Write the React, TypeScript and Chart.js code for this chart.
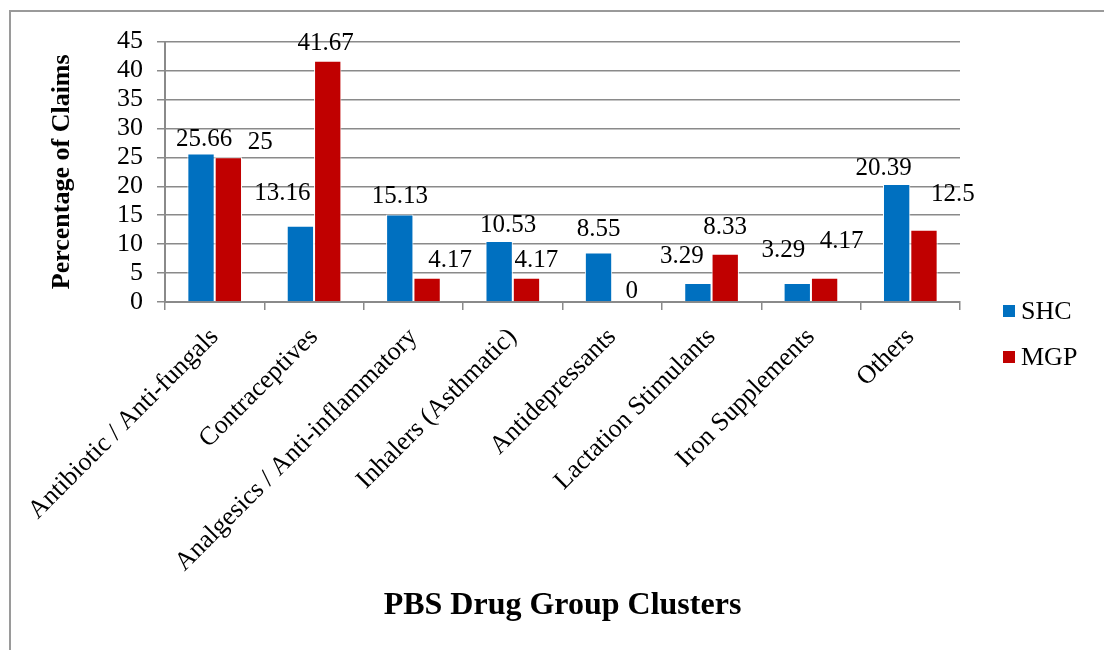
import React, { useEffect, useRef } from "react";
import { Chart, registerables } from "chart.js";

Chart.register(...registerables);

const categories = [
  "Antibiotic / Anti-fungals",
  "Contraceptives",
  "Analgesics / Anti-inflammatory",
  "Inhalers (Asthmatic)",
  "Antidepressants",
  "Lactation Stimulants",
  "Iron Supplements",
  "Others",
];
const shcValues = [25.66, 13.16, 15.13, 10.53, 8.55, 3.29, 3.29, 20.39];
const mgpValues = [25, 41.67, 4.17, 4.17, 0, 8.33, 4.17, 12.5];
const seriesNames = ["SHC", "MGP"];
const seriesColors = ["#0070C0", "#C00000"];

// label nudges (px) relative to each bar's top centre, as placed in the original
const shcLabelDx = [3, -18, 0, 9, 0, -16, -14, -13];
const shcLabelDy = [-14, -32, -18, -16, -23, -27, -33, -16];
const mgpLabelDx = [32, -2, 23, 10, 6, 0, 17, 29];
const mgpLabelDy = [-15, -17, -17, -17, -11, -26, -36, -35];

const FONT = "'Liberation Serif', 'Times New Roman', serif";
const GRID = "#8a8a8a";

const labelPlugin = {
  id: "valueLabels",
  afterDatasetsDraw(chart: any) {
    const ctx = chart.ctx;
    ctx.save();
    ctx.font = `25px ${FONT}`;
    ctx.fillStyle = "#000";
    ctx.textAlign = "center";
    ctx.textBaseline = "middle";
    const dxs = [shcLabelDx, mgpLabelDx];
    const dys = [shcLabelDy, mgpLabelDy];
    chart.data.datasets.forEach((ds: any, di: number) => {
      const meta = chart.getDatasetMeta(di);
      meta.data.forEach((bar: any, i: number) => {
        const v = ds.data[i];
        ctx.fillText(String(v), bar.x + dxs[di][i], bar.y + dys[di][i]);
      });
    });
    ctx.restore();
  },
};

const legendPlugin = {
  id: "sideLegend",
  afterDraw(chart: any) {
    const ctx = chart.ctx;
    const area = chart.chartArea;
    const cy = chart.height / 2 + 3;
    ctx.save();
    ctx.font = `26px ${FONT}`;
    ctx.textBaseline = "middle";
    ctx.textAlign = "left";
    chart.data.datasets.forEach((ds: any, i: number) => {
      const y = cy + (i === 0 ? -23 : 23);
      const x = area.right + 43;
      ctx.fillStyle = ds.backgroundColor;
      ctx.fillRect(x, y - 6, 12, 12);
      ctx.fillStyle = "#000";
      ctx.fillText(ds.label, x + 18, y + 1);
    });
    ctx.restore();
  },
};

export default function App() {
  const canvasRef = useRef<HTMLCanvasElement | null>(null);

  useEffect(() => {
    if (!canvasRef.current) return;
    const chart = new Chart(canvasRef.current, {
      type: "bar",
      data: {
        labels: categories,
        datasets: [
          {
            label: seriesNames[0],
            data: shcValues,
            backgroundColor: seriesColors[0],
            borderColor: "#ffffff",
            borderWidth: 1,
            categoryPercentage: 0.55,
            barPercentage: 1,
          },
          {
            label: seriesNames[1],
            data: mgpValues,
            backgroundColor: seriesColors[1],
            borderColor: "#ffffff",
            borderWidth: 1,
            categoryPercentage: 0.55,
            barPercentage: 1,
          },
        ],
      },
      options: {
        animation: false,
        responsive: false,
        maintainAspectRatio: false,
        layout: { padding: { top: 28, right: 144, left: 0, bottom: 0 } },
        plugins: {
          legend: { display: false },
          tooltip: { enabled: false },
        },
        scales: {
          x: {
            grid: {
              display: true,
              drawOnChartArea: false,
              drawTicks: true,
              tickLength: 8,
              color: GRID,
              lineWidth: 1.5,
              offset: true,
            },
            border: { display: true, color: GRID, width: 2 },
            ticks: {
              minRotation: 45,
              maxRotation: 45,
              autoSkip: false,
              color: "#000",
              padding: 12,
              font: { family: FONT, size: 26 },
            },
            title: {
              display: true,
              text: "PBS Drug Group Clusters",
              color: "#000",
              font: { family: FONT, size: 32, weight: "bold" },
              padding: { top: 0, bottom: 25 },
            },
            afterFit(scale: any) {
              scale.height = 348;
            },
          },
          y: {
            min: 0,
            max: 45,
            ticks: {
              stepSize: 5,
              autoSkip: false,
              color: "#000",
              padding: 14,
              font: { family: FONT, size: 26 },
            },
            grid: {
              color: GRID,
              lineWidth: 1.5,
              tickLength: 8,
            },
            border: { display: true, color: GRID, width: 2 },
            title: {
              display: true,
              text: "Percentage of Claims",
              color: "#000",
              font: { family: FONT, size: 26, weight: "bold" },
              padding: { top: 36, bottom: 0 },
            },
            afterFit(scale: any) {
              scale.width = 154;
            },
          },
        },
      },
      plugins: [labelPlugin, legendPlugin],
    });
    return () => chart.destroy();
  }, []);

  return (
    <div
      style={{
        position: "absolute",
        left: 9,
        top: 10,
        width: 1095,
        height: 640,
        borderLeft: "2px solid #9a9a9a",
        borderTop: "2px solid #9a9a9a",
        background: "#fff",
        overflow: "hidden",
      }}
    >
      <canvas ref={canvasRef} width={1093} height={638} style={{ display: "block" }} />
    </div>
  );
}
